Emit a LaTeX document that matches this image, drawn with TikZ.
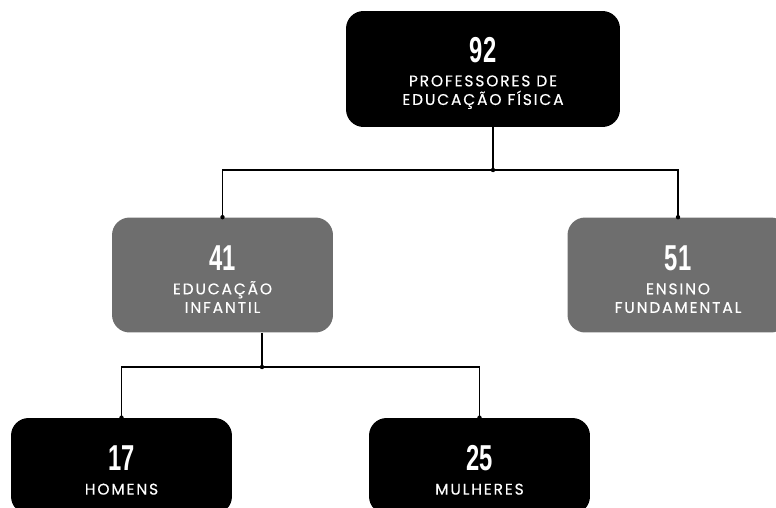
\documentclass[tikz,border=0pt]{standalone}
\usepackage{graphicx}
\usepackage{fontspec}
\setmainfont{Poppins}
\newfontfamily\numfont{Liberation Sans}
\newfontfamily\labfont[LetterSpace=12,FakeBold=0.4]{Poppins}
\newcommand{\bignum}[1]{\rule{0pt}{19pt}\scalebox{0.66}[1]{\numfont\bfseries\fontsize{20.5}{20.5}\selectfont #1}}

\begin{document}
\begin{tikzpicture}[x=0.02cm, y=-0.02cm,
                    every node/.style={rounded corners=10pt, text=white, align=center, inner sep=0pt,
                                       font=\labfont\fontsize{8.8}{10.6}\selectfont},
                    darkbox/.style={fill=black, minimum width=4.42cm, minimum height=2.3cm},
                    greybox/.style={fill=black!57, minimum width=4.42cm, minimum height=2.3cm},
                    link/.style={draw, line width=0.6pt},
                    joint/.style={fill=black}]

    \useasboundingbox (0,0) rectangle (776,507);

    % Define nodes
    \node[darkbox, minimum width=5.48cm, minimum height=2.32cm] (total) at (483,69)
        {\bignum{92}\\[3pt] PROFESSORES DE\\EDUCAÇÃO FÍSICA}; % Root node
    \node[greybox] (infantil) at (222.5,275)
        {\bignum{41}\\[3pt] EDUCAÇÃO\\INFANTIL};
    \node[greybox] (fundamental) at (678,275)
        {\bignum{51}\\[3pt] ENSINO\\FUNDAMENTAL};
    \node[darkbox, minimum height=1.92cm] (homens) at (121.5,466)
        {\bignum{17}\\[3pt] HOMENS}; % Child of infantil
    \node[darkbox, minimum height=1.92cm] (mulheres) at (479.5,466)
        {\bignum{25}\\[3pt] MULHERES}; % Child of infantil

    % Junction points
    \coordinate (topfork) at (493,170);
    \coordinate (midfork) at (262,367);

    % Define edges
    \path[link] (total.south -| topfork) -- (topfork);
    \path[link] (infantil.north) |- (topfork) -| (fundamental.north);
    \path[link] (infantil.south -| midfork) -- (midfork);
    \path[link] (homens.north) |- (midfork) -| (mulheres.north);

    % Dots
    \fill[joint] (topfork) circle (2.2);
    \fill[joint] (midfork) circle (2.2);
    \fill[joint] (infantil.north) circle (2.2);
    \fill[joint] (fundamental.north) circle (2.2);
    \fill[joint] (homens.north) circle (2.2);
    \fill[joint] (mulheres.north) circle (2.2);
\end{tikzpicture}
\end{document}
